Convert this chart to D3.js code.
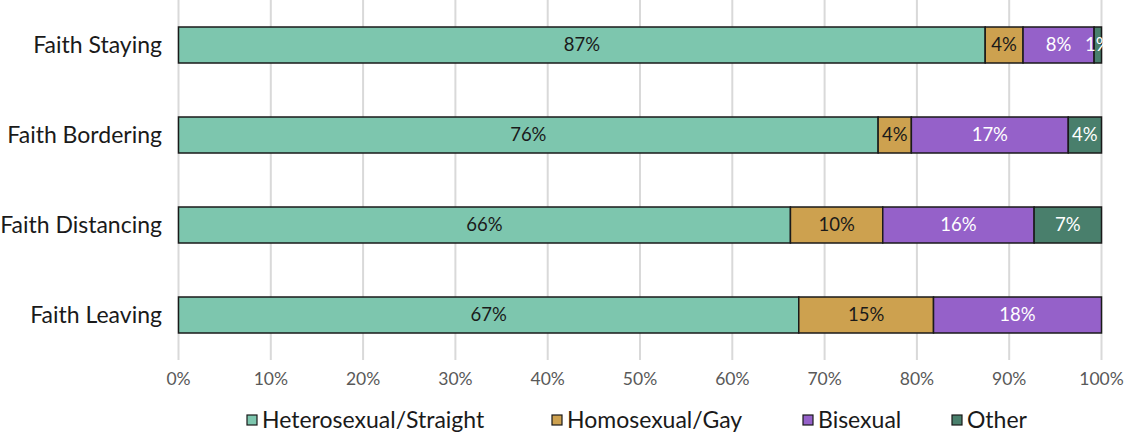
<!DOCTYPE html>
<html>
<head>
<meta charset="utf-8">
<script src="https://cdn.jsdelivr.net/npm/d3@7"></script>
<style>
  body { margin: 0; background: #fff; }
  text { font-family: Lato, "Noto Sans", sans-serif; }
</style>
</head>
<body>
<svg id="chart"></svg>
<script>
// data (percent of each group)
var groups = ["Faith Staying", "Faith Bordering", "Faith Distancing", "Faith Leaving"];
var series = ["Heterosexual/Straight", "Homosexual/Gay", "Bisexual", "Other"];
var heterosexual = [87.4, 75.8, 66.3, 67.2];
var homosexual = [4.1, 3.6, 10.0, 14.6];
var bisexual = [7.7, 17.0, 16.4, 18.2];
var other = [0.8, 3.6, 7.3, 0];
var xTicks = [0, 10, 20, 30, 40, 50, 60, 70, 80, 90, 100];

var colors = ["#7dc6ae", "#cda14f", "#9561c9", "#497f6c"];
var labelColors = ["#1a1a1a", "#1a1a1a", "#ffffff", "#ffffff"];

var width = 1125, height = 432;
var margin = { top: 0, right: 23.5, bottom: 72, left: 178.5 };

var svg = d3.select('#chart')
  .attr("width", width)
  .attr("height", height);

var rows = groups.map(function (g, i) {
  return {
    group: g,
    "Heterosexual/Straight": heterosexual[i],
    "Homosexual/Gay": homosexual[i],
    "Bisexual": bisexual[i],
    "Other": other[i]
  };
});

var x = d3.scaleLinear()
  .domain([0, 100])
  .range([margin.left, width - margin.right]);

var y = d3.scaleBand()
  .domain(groups)
  .range([margin.top, height - margin.bottom])
  .paddingInner(0.6)
  .paddingOuter(0.3);

// gridlines
svg.append("g")
  .selectAll("line")
  .data(xTicks)
  .join("line")
  .attr("x1", function (d) { return x(d); })
  .attr("x2", function (d) { return x(d); })
  .attr("y1", margin.top)
  .attr("y2", height - margin.bottom)
  .attr("stroke", "#d9d9d9")
  .attr("stroke-width", 2);

// x tick labels
svg.append("g")
  .selectAll("text")
  .data(xTicks)
  .join("text")
  .attr("x", function (d) { return x(d); })
  .attr("y", 385)
  .attr("text-anchor", "middle")
  .attr("font-size", 17.5)
  .attr("fill", "#595959")
  .text(function (d) { return d + "%"; });

// category labels
svg.append("g")
  .selectAll("text")
  .data(groups)
  .join("text")
  .attr("x", 162)
  .attr("y", function (d) { return y(d) + y.bandwidth() / 2; })
  .attr("dy", "0.35em")
  .attr("text-anchor", "end")
  .attr("font-size", 23)
  .attr("fill", "#1a1a1a")
  .text(function (d) { return d; });

var stacked = d3.stack().keys(series)(rows);

var layer = svg.append("g")
  .selectAll("g")
  .data(stacked)
  .join("g")
  .attr("fill", function (d, i) { return colors[i]; });

layer.selectAll("rect")
  .data(function (d) { return d.filter(function (s) { return s[1] - s[0] > 0; }); })
  .join("rect")
  .attr("x", function (d) { return x(d[0]); })
  .attr("width", function (d) { return x(d[1]) - x(d[0]); })
  .attr("y", function (d) { return y(d.data.group); })
  .attr("height", y.bandwidth())
  .attr("stroke", "#1a1a1a")
  .attr("stroke-width", 1.5);

// value labels
stacked.forEach(function (s, i) {
  svg.append("g")
    .selectAll("text")
    .data(s.filter(function (d) { return d[1] - d[0] > 0; }))
    .join("text")
    .attr("x", function (d) { return (x(d[0]) + x(d[1])) / 2; })
    .attr("y", function (d) { return y(d.data.group) + y.bandwidth() / 2; })
    .attr("dy", "0.35em")
    .attr("text-anchor", "middle")
    .attr("font-size", 18.5)
    .attr("fill", labelColors[i])
    .text(function (d) { return Math.round(d[1] - d[0]) + "%"; });
});

// legend
var legendX = [247, 552, 803, 952];
var legend = svg.append("g")
  .selectAll("g")
  .data(series)
  .join("g")
  .attr("transform", function (d, i) { return "translate(" + legendX[i] + ",420)"; });

legend.append("rect")
  .attr("x", 0)
  .attr("y", -5)
  .attr("width", 10)
  .attr("height", 10)
  .attr("fill", function (d, i) { return colors[i]; })
  .attr("stroke", "#1a1a1a")
  .attr("stroke-width", 1.2);

legend.append("text")
  .attr("x", 15)
  .attr("y", 0)
  .attr("dy", "0.35em")
  .attr("font-size", 23)
  .attr("fill", "#1a1a1a")
  .text(function (d) { return d; });
</script>
</body>
</html>
